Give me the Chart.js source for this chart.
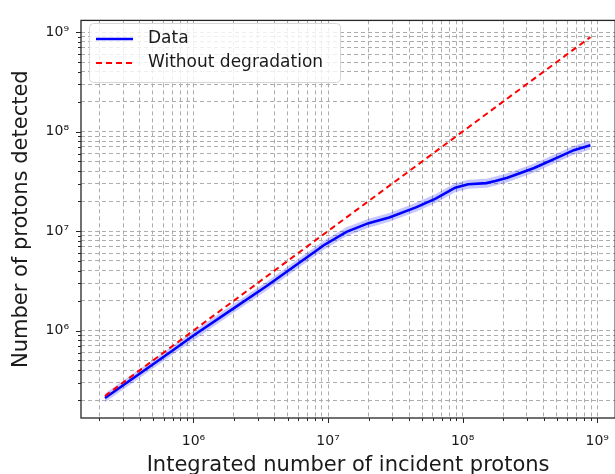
<!DOCTYPE html>
<html>
<head>
<meta charset="utf-8">
<script src="https://cdn.jsdelivr.net/npm/chart.js@4/dist/chart.umd.min.js"></script>
<style>
  html, body { margin: 0; padding: 0; background: #fff; overflow: hidden; }
  #wrap { width: 624px; height: 474px; }
</style>
</head>
<body>
<div id="wrap"><canvas id="c" width="624" height="474"></canvas></div>
<script>
// --- data ---
const incident = [2.2e5, 4.0e5, 7.0e5, 1.0e6, 2.0e6, 3.5e6, 5.2e6, 9.3e6, 1.37e7, 2.0e7, 2.85e7,
                  4.5e7, 6.3e7, 8.8e7, 1.1e8, 1.5e8, 1.75e8, 2.15e8, 3.4e8, 5.4e8, 6.7e8, 8.9e8];
const detected = [2.1e5, 3.7e5, 6.3e5, 8.9e5, 1.68e6, 2.8e6, 4.1e6, 7.2e6, 9.8e6, 1.2e7, 1.37e7,
                  1.73e7, 2.12e7, 2.73e7, 2.95e7, 3.03e7, 3.18e7, 3.43e7, 4.3e7, 5.7e7, 6.5e7, 7.3e7];
const detectedLow = [1.9e5, 3.35e5, 5.7e5, 8.0e5, 1.52e6, 2.53e6, 3.7e6, 6.5e6, 8.85e6, 1.08e7, 1.24e7,
                  1.56e7, 1.91e7, 2.46e7, 2.66e7, 2.73e7, 2.87e7, 3.1e7, 3.88e7, 5.15e7, 5.85e7, 6.6e7];
const detectedHigh = [2.33e5, 4.1e5, 7.0e5, 9.9e5, 1.86e6, 3.1e6, 4.55e6, 8.0e6, 1.09e7, 1.33e7, 1.52e7,
                  1.92e7, 2.35e7, 3.03e7, 3.27e7, 3.36e7, 3.53e7, 3.8e7, 4.77e7, 6.3e7, 7.2e7, 8.1e7];
const idealX = [2.2e5, 8.9e8];
const idealY = [2.2e5, 8.9e8];

const majorValues = [1e6, 1e7, 1e8, 1e9];
const majorLabels = ['10\u2076', '10\u2077', '10\u2078', '10\u2079'];

const seriesNames = ['Data', 'Without degradation'];

// --- helpers ---
const pts = (xs, ys) => xs.map((v, i) => ({ x: v, y: ys[i] }));
const isMajor = v => Math.abs(Math.log10(v) - Math.round(Math.log10(v))) < 1e-9;

function decadeTicks(scale) {
  const out = [];
  for (let e = 5; e <= 9; e++) {
    for (let m = 1; m <= 9; m++) {
      const v = m * Math.pow(10, e);
      if (v >= scale.min && v <= scale.max) out.push({ value: v });
    }
  }
  scale.ticks = out;
}
const tickLabel = v => {
  const i = majorValues.findIndex(m => Math.abs(m - v) / m < 1e-9);
  return i >= 0 ? majorLabels[i] : '';
};

Chart.defaults.font.family = 'DejaVu Sans';
Chart.defaults.color = '#1a1a1a';

// spines, tick marks
const frame = {
  id: 'frame',
  afterDatasetsDraw(chart) {
    const { ctx, chartArea: a, scales: { x, y } } = chart;
    ctx.save();
    ctx.strokeStyle = '#262626';
    ctx.lineWidth = 1;
    ctx.beginPath();
    x.ticks.forEach(t => {
      const px = Math.round(x.getPixelForValue(t.value)) + 0.5;
      const len = isMajor(t.value) ? 5 : 3;
      ctx.moveTo(px, a.bottom);
      ctx.lineTo(px, a.bottom + len);
    });
    y.ticks.forEach(t => {
      const py = Math.round(y.getPixelForValue(t.value)) + 0.5;
      const len = isMajor(t.value) ? 5 : 3;
      ctx.moveTo(a.left, py);
      ctx.lineTo(a.left - len, py);
    });
    ctx.stroke();
    ctx.lineWidth = 1.3;
    ctx.strokeRect(a.left, a.top, a.right - a.left, a.bottom - a.top);
    ctx.restore();
  }
};

// legend box in the upper left corner
const cornerLegend = {
  id: 'cornerLegend',
  afterDraw(chart) {
    const { ctx } = chart;
    ctx.save();
    ctx.beginPath();
    ctx.roundRect(89.5, 23.5, 251, 59, 4);
    ctx.fillStyle = 'rgba(255,255,255,0.8)';
    ctx.fill();
    ctx.strokeStyle = '#d6d6d6';
    ctx.lineWidth = 1;
    ctx.stroke();

    const rows = [
      { y: 39, color: '#0000ff', dash: [], width: 2.4 },
      { y: 63, color: '#ff0000', dash: [6, 4], width: 2 }
    ];
    rows.forEach((r, i) => {
      ctx.beginPath();
      ctx.setLineDash(r.dash);
      ctx.strokeStyle = r.color;
      ctx.lineWidth = r.width;
      ctx.moveTo(96, r.y);
      ctx.lineTo(133, r.y);
      ctx.stroke();
      ctx.setLineDash([]);
      ctx.fillStyle = '#1a1a1a';
      ctx.font = '17px "DejaVu Sans"';
      ctx.textBaseline = 'middle';
      ctx.fillText(seriesNames[i], 148, r.y);
    });
    ctx.restore();
  }
};

new Chart(document.getElementById('c'), {
  type: 'line',
  data: {
    datasets: [
      {
        label: seriesNames[1],
        data: pts(idealX, idealY),
        borderColor: '#ff0000',
        borderWidth: 2,
        borderDash: [6, 4],
        pointRadius: 0,
        fill: false
      },
      {
        label: seriesNames[0],
        data: pts(incident, detected),
        borderColor: '#0000ff',
        borderWidth: 2.6,
        pointRadius: 0,
        fill: false
      },
      {
        label: 'high',
        data: pts(incident, detectedHigh),
        borderWidth: 0,
        borderColor: 'rgba(0,0,0,0)',
        backgroundColor: 'rgba(0,0,255,0.22)',
        pointRadius: 0,
        fill: '+1'
      },
      {
        label: 'low',
        data: pts(incident, detectedLow),
        borderWidth: 0,
        borderColor: 'rgba(0,0,0,0)',
        pointRadius: 0,
        fill: false
      }
    ]
  },
  options: {
    responsive: false,
    animation: false,
    layout: { padding: { left: 0, top: 15, right: 2, bottom: 0 } },
    plugins: { legend: { display: false }, tooltip: { enabled: false } },
    scales: {
      x: {
        type: 'logarithmic',
        min: 1.46e5,
        max: 1.36e9,
        afterBuildTicks: decadeTicks,
        afterFit: s => { s.height = 56; },
        grid: { color: '#acacac', lineWidth: 1, drawTicks: false },
        border: { display: false, dash: [4, 3] },
        ticks: { autoSkip: false, maxRotation: 0, padding: 15, font: { size: 14 }, callback: tickLabel },
        title: {
          display: true,
          text: 'Integrated number of incident protons',
          font: { size: 21, lineHeight: 0.8 },
          padding: 0
        }
      },
      y: {
        type: 'logarithmic',
        min: 1.32e5,
        max: 1.31e9,
        afterBuildTicks: decadeTicks,
        afterFit: s => { s.width = 81; },
        grid: { color: '#acacac', lineWidth: 1, drawTicks: false },
        border: { display: false, dash: [4, 3] },
        ticks: { autoSkip: false, padding: 12, font: { size: 14 }, callback: tickLabel },
        title: {
          display: true,
          text: 'Number of protons detected',
          font: { size: 21 },
          padding: { top: 9, bottom: 0 }
        }
      }
    }
  },
  plugins: [frame, cornerLegend]
});
</script>
</body>
</html>
